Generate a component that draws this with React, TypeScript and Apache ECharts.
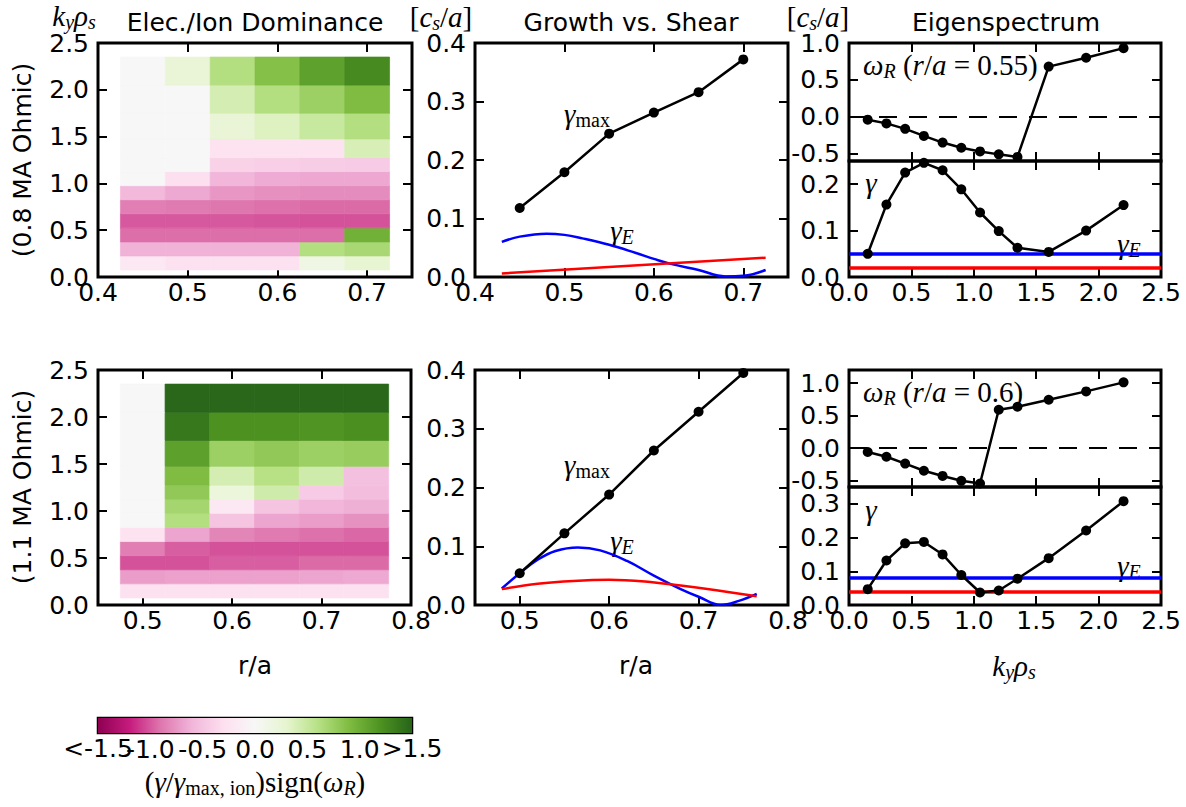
import React, { useEffect, useRef } from 'react';
import * as echarts from 'echarts';

// ---------- data ----------
const kyValues = [0.15, 0.3, 0.45, 0.6, 0.75, 0.9, 1.05, 1.2, 1.35, 1.6, 1.9, 2.2];
const rTop = [0.45, 0.5, 0.55, 0.6, 0.65, 0.7];
const rBot = [0.5, 0.55, 0.6, 0.65, 0.7, 0.75];

// rows: ky from 0.15 upward; columns: r/a
const domTop = [
  [-0.2, -0.27, -0.27, -0.27, 0.15, 0.28],
  [-0.62, -0.62, -0.62, -0.62, 0.62, 0.68],
  [-0.93, -0.93, -0.93, -0.93, -0.93, 0.98],
  [-1.0, -1.0, -1.0, -1.01, -1.02, -1.02],
  [-0.86, -0.88, -0.9, -0.92, -0.94, -0.94],
  [-0.58, -0.66, -0.75, -0.78, -0.8, -0.8],
  [0, -0.3, -0.6, -0.65, -0.67, -0.67],
  [0, 0, -0.4, -0.42, -0.44, -0.45],
  [0, 0, -0.28, -0.28, -0.28, 0.4],
  [0, 0, 0.25, 0.36, 0.5, 0.62],
  [0, 0, 0.42, 0.62, 0.75, 0.9],
  [0, 0.25, 0.62, 0.87, 1.09, 1.25],
];
const domBot = [
  [-0.27, -0.27, -0.27, -0.27, -0.27, -0.27],
  [-0.72, -0.7, -0.7, -0.7, -0.68, -0.66],
  [-1.02, -1.02, -0.98, -0.98, -0.94, -0.94],
  [-0.86, -0.98, -1.02, -1.02, -1.02, -1.02],
  [-0.28, -0.68, -0.83, -0.88, -0.92, -0.95],
  [0, 0.62, -0.5, -0.68, -0.72, -0.77],
  [0, 0.7, -0.2, -0.5, -0.6, -0.63],
  [0, 0.8, 0.22, 0.45, -0.45, -0.55],
  [0, 0.9, 0.42, 0.6, 0.45, -0.53],
  [0, 1.1, 0.75, 0.8, 0.75, 0.77],
  [0, 1.37, 1.2, 1.2, 1.18, 1.22],
  [0, 1.48, 1.48, 1.48, 1.48, 1.48],
];

const gmaxTopR = [0.45, 0.5, 0.55, 0.6, 0.65, 0.7];
const gmaxTop = [0.118, 0.179, 0.245, 0.281, 0.316, 0.372];
const shearTopR = [0.43, 0.45, 0.48, 0.5, 0.52, 0.55, 0.58, 0.6, 0.62, 0.65, 0.68, 0.7, 0.725];
const shearTop = [0.06, 0.069, 0.074, 0.072, 0.066, 0.055, 0.041, 0.031, 0.022, 0.012, 0.001, 0.002, 0.012];
const redTopR = [0.43, 0.725];
const redTop = [0.006, 0.033];

const gmaxBotR = [0.5, 0.55, 0.6, 0.65, 0.7, 0.75];
const gmaxBot = [0.054, 0.122, 0.188, 0.263, 0.329, 0.395];
const shearBotR = [0.48, 0.5, 0.52, 0.54, 0.565, 0.59, 0.62, 0.65, 0.68, 0.7, 0.725, 0.745, 0.765];
const shearBot = [0.028, 0.054, 0.077, 0.092, 0.098, 0.093, 0.075, 0.05, 0.027, 0.014, 0.0, 0.007, 0.019];
const redBotR = [0.48, 0.52, 0.56, 0.6, 0.64, 0.68, 0.72, 0.765];
const redBot = [0.027, 0.036, 0.041, 0.043, 0.04, 0.033, 0.025, 0.015];

const omegaTop = [-0.04, -0.09, -0.164, -0.26, -0.35, -0.42, -0.47, -0.51, -0.545, 0.68, 0.8, 0.93];
const gammaTop = [0.05, 0.156, 0.225, 0.246, 0.23, 0.189, 0.139, 0.099, 0.063, 0.054, 0.1, 0.155];
const omegaBot = [-0.062, -0.134, -0.24, -0.35, -0.43, -0.505, -0.546, 0.588, 0.634, 0.742, 0.871, 1.01];
const gammaBot = [0.047, 0.132, 0.183, 0.187, 0.15, 0.089, 0.037, 0.043, 0.078, 0.139, 0.221, 0.308];
const shearFlatTop = 0.049;
const redFlatTop = 0.016;
const shearFlatBot = 0.079;
const redFlatBot = 0.042;

const cbarRange = [-1.5, 1.5];
const cbarEndLabels = ['<-1.5', '>1.5'];
const PIYG = ['#8e0152', '#c51b7d', '#de77ae', '#f1b6da', '#fde0ef', '#f7f7f7', '#e6f5d0', '#b8e186', '#7fbc41', '#4d9221', '#276419'];

// ---------- helpers ----------
function hexToRgb(h: string) {
  return [parseInt(h.slice(1, 3), 16), parseInt(h.slice(3, 5), 16), parseInt(h.slice(5, 7), 16)];
}
function piyg(v: number) {
  const t = Math.max(0, Math.min(1, (v - cbarRange[0]) / (cbarRange[1] - cbarRange[0]))) * 10;
  const i = Math.min(9, Math.floor(t));
  const f = t - i;
  const a = hexToRgb(PIYG[i]);
  const b = hexToRgb(PIYG[i + 1]);
  const c = a.map((x, k) => Math.round(x + (b[k] - x) * f));
  return `rgb(${c[0]},${c[1]},${c[2]})`;
}
function zip(xs: number[], ys: number[]) {
  return xs.map((x, i) => [x, ys[i]]);
}
function heatData(rs: number[], grid: number[][]) {
  const out: number[][] = [];
  const n = kyValues.length;
  for (let i = 0; i < n; i++) {
    const lo = i === 0 ? kyValues[0] - (kyValues[1] - kyValues[0]) / 2 : (kyValues[i - 1] + kyValues[i]) / 2;
    const hi = i === n - 1 ? kyValues[n - 1] + (kyValues[n - 1] - kyValues[n - 2]) / 2 : (kyValues[i] + kyValues[i + 1]) / 2;
    for (let j = 0; j < rs.length; j++) {
      out.push([rs[j], kyValues[i], grid[i][j], lo, hi]);
    }
  }
  return out;
}
const halfW = (rTop[1] - rTop[0]) / 2;

const SANS = "'DejaVu Sans', sans-serif";
const SERIF = "'Liberation Serif', 'DejaVu Serif', serif";

const isMult = (v: number, step: number) => Math.abs(v / step - Math.round(v / step)) < 1e-6;

const tick = { show: true, inside: true, length: 9, lineStyle: { color: '#000', width: 2 } };

function axis(gridIndex: number, position: string, r: any, labels: boolean, step: number, isX: boolean) {
  return {
    type: 'value',
    gridIndex,
    position,
    min: r.min,
    max: r.max,
    interval: r.interval,
    splitNumber: r.splitNumber,
    axisLine: { show: false, onZero: false },
    axisTick: tick,
    splitLine: { show: false },
    axisLabel: {
      show: labels,
      showMinLabel: true,
      showMaxLabel: true,
      hideOverlap: false,
      color: '#000',
      fontSize: 25,
      fontFamily: SANS,
      margin: isX ? 3 : 9,
      formatter: (v: number) => (isMult(v, step) ? v.toFixed(1) : ''),
    },
  };
}

const grids = [
  { left: 98, top: 43, width: 314, height: 234 },
  { left: 475, top: 43, width: 313, height: 234 },
  { left: 849, top: 43, width: 312, height: 118 },
  { left: 849, top: 161, width: 312, height: 116 },
  { left: 98, top: 370, width: 313, height: 235 },
  { left: 475, top: 370, width: 313, height: 235 },
  { left: 849, top: 370, width: 312, height: 117 },
  { left: 849, top: 487, width: 312, height: 118 },
];
const cbarGrid = { left: 98, top: 718, width: 314, height: 15 };

const axSpec = [
  { x: { min: 0.4, max: 0.75, interval: 0.1 }, y: { min: 0, max: 2.5, interval: 0.5 }, xl: true, xs: 0.1, ys: 0.5 },
  { x: { min: 0.4, max: 0.75, interval: 0.1 }, y: { min: 0, max: 0.4, interval: 0.1 }, xl: true, xs: 0.1, ys: 0.1 },
  { x: { min: 0, max: 2.5, interval: 0.5 }, y: { min: -0.6, max: 1.0, splitNumber: 3 }, xl: false, xs: 0.5, ys: 0.5 },
  { x: { min: 0, max: 2.5, interval: 0.5 }, y: { min: 0, max: 0.25, interval: 0.1 }, xl: true, xs: 0.5, ys: 0.1 },
  { x: { min: 0.45, max: 0.8, splitNumber: 4 }, y: { min: 0, max: 2.5, interval: 0.5 }, xl: true, xs: 0.1, ys: 0.5 },
  { x: { min: 0.45, max: 0.8, splitNumber: 4 }, y: { min: 0, max: 0.4, interval: 0.1 }, xl: true, xs: 0.1, ys: 0.1 },
  { x: { min: 0, max: 2.5, interval: 0.5 }, y: { min: -0.6, max: 1.2, splitNumber: 3 }, xl: false, xs: 0.5, ys: 0.5 },
  { x: { min: 0, max: 2.5, interval: 0.5 }, y: { min: 0, max: 0.35, interval: 0.1 }, xl: true, xs: 0.5, ys: 0.1 },
];

function heatSeries(idx: number, rs: number[], grid: number[][]) {
  return {
    type: 'custom',
    xAxisIndex: idx * 2,
    yAxisIndex: idx * 2,
    encode: { x: 0, y: 1 },
    data: heatData(rs, grid),
    renderItem: (params: any, api: any) => {
      const x = api.value(0);
      const v = api.value(2);
      const p0 = api.coord([x - halfW, api.value(3)]);
      const p1 = api.coord([x + halfW, api.value(4)]);
      const c = piyg(v);
      return {
        type: 'rect',
        shape: { x: p0[0], y: p1[1], width: p1[0] - p0[0], height: p0[1] - p1[1] },
        style: { fill: c, stroke: c, lineWidth: 0.7 },
      };
    },
  };
}

function dotLine(idx: number, data: number[][], extra: any = {}) {
  return {
    type: 'line',
    xAxisIndex: idx * 2,
    yAxisIndex: idx * 2,
    data,
    symbol: 'circle',
    symbolSize: 10,
    itemStyle: { color: '#000' },
    lineStyle: { color: '#000', width: 2.5 },
    z: 5,
    ...extra,
  };
}
function curve(idx: number, data: number[][], color: string) {
  return {
    type: 'line',
    xAxisIndex: idx * 2,
    yAxisIndex: idx * 2,
    data,
    symbol: 'none',
    smooth: 0.4,
    lineStyle: { color, width: 2.5 },
    z: 3,
  };
}
function flatLines(a: number, b: number) {
  return {
    symbol: 'none',
    silent: true,
    label: { show: false },
    z: 2,
    data: [
      { yAxis: a, lineStyle: { color: '#0000ff', width: 3.5, type: 'solid' } },
      { yAxis: b, lineStyle: { color: '#ff0000', width: 3.5, type: 'solid' } },
    ],
  };
}
const zeroLine = {
  symbol: 'none',
  silent: true,
  label: { show: false },
  data: [{ yAxis: 0, lineStyle: { color: '#000', width: 2, type: [18, 12] } }],
};

const mathRich = {
  i: { fontFamily: SERIF, fontStyle: 'italic', fontSize: 29, lineHeight: 31, fill: '#000' },
  r: { fontFamily: SERIF, fontSize: 29, lineHeight: 31, fill: '#000' },
  s: { fontFamily: SERIF, fontStyle: 'italic', fontSize: 20, lineHeight: 16, verticalAlign: 'bottom', fill: '#000' },
  sr: { fontFamily: SERIF, fontSize: 20, lineHeight: 16, verticalAlign: 'bottom', fill: '#000' },
};

function sansText(x: number, y: number, text: string, rot = 0) {
  return {
    type: 'text',
    x,
    y,
    rotation: rot,
    style: { text, fontSize: 25, fontFamily: SANS, fill: '#000', align: 'center', verticalAlign: 'middle' },
  };
}
function mathText(x: number, y: number, text: string, align = 'center') {
  return {
    type: 'text',
    x,
    y,
    style: { text, rich: mathRich, fill: '#000', align, verticalAlign: 'middle' },
  };
}

export default function App() {
  const ref = useRef<HTMLDivElement>(null);
  useEffect(() => {
    if (!ref.current) return;
    const chart = echarts.init(ref.current, null, { renderer: 'svg' });

    const xAxes: any[] = [];
    const yAxes: any[] = [];
    const gridOpts: any[] = grids.map((g) => ({
      ...g,
      show: true,
      borderColor: '#000',
      borderWidth: 3,
      backgroundColor: 'transparent',
      containLabel: false,
    }));
    axSpec.forEach((s, gi) => {
      xAxes.push(axis(gi, 'bottom', s.x, s.xl, s.xs, true));
      xAxes.push(axis(gi, 'top', s.x, false, s.xs, true));
      yAxes.push(axis(gi, 'left', s.y, true, s.ys, false));
      yAxes.push(axis(gi, 'right', s.y, false, s.ys, false));
    });
    // colorbar grid
    gridOpts.push({ ...cbarGrid, show: true, borderColor: '#000', borderWidth: 2.5, backgroundColor: 'transparent' });
    xAxes.push({
      type: 'value',
      gridIndex: 8,
      position: 'bottom',
      min: cbarRange[0],
      max: cbarRange[1],
      interval: 0.5,
      axisLine: { show: false, onZero: false },
      axisTick: tick,
      splitLine: { show: false },
      axisLabel: {
        showMinLabel: false,
        showMaxLabel: false,
        hideOverlap: false,
        color: '#000',
        fontSize: 25,
        fontFamily: SANS,
        margin: 4,
        formatter: (v: number) =>
          v <= cbarRange[0] + 1e-9 || v >= cbarRange[1] - 1e-9 ? '' : v.toFixed(1),
      },
    });
    yAxes.push({ type: 'value', gridIndex: 8, min: 0, max: 1, show: false });

    const series: any[] = [
      heatSeries(0, rTop, domTop),
      dotLine(1, zip(gmaxTopR, gmaxTop)),
      curve(1, zip(shearTopR, shearTop), '#0000ff'),
      curve(1, zip(redTopR, redTop), '#ff0000'),
      dotLine(2, zip(kyValues, omegaTop), { markLine: zeroLine }),
      dotLine(3, zip(kyValues, gammaTop), { markLine: flatLines(shearFlatTop, redFlatTop) }),
      heatSeries(4, rBot, domBot),
      dotLine(5, zip(gmaxBotR, gmaxBot)),
      curve(5, zip(shearBotR, shearBot), '#0000ff'),
      curve(5, zip(redBotR, redBot), '#ff0000'),
      dotLine(6, zip(kyValues, omegaBot), { markLine: zeroLine }),
      dotLine(7, zip(kyValues, gammaBot), { markLine: flatLines(shearFlatBot, redFlatBot) }),
      {
        type: 'custom',
        xAxisIndex: 16,
        yAxisIndex: 16,
        data: [[cbarRange[0], cbarRange[1]]],
        renderItem: (params: any, api: any) => {
          const p0 = api.coord([api.value(0), 0]);
          const p1 = api.coord([api.value(1), 1]);
          return {
            type: 'rect',
            shape: { x: p0[0], y: p1[1], width: p1[0] - p0[0], height: p0[1] - p1[1] },
            style: {
              fill: new echarts.graphic.LinearGradient(
                0, 0, 1, 0,
                PIYG.map((c, i) => ({ offset: i / (PIYG.length - 1), color: c }))
              ),
            },
          };
        },
      },
    ];

    const cbarLabelY = cbarGrid.top + cbarGrid.height + 15;
    const graphic: any[] = [
      mathText(74, 16, '{i|k}{s|y}{i|ρ}{s|s}'),
      sansText(255, 22, 'Elec./Ion Dominance'),
      sansText(631, 22, 'Growth vs. Shear'),
      sansText(1006, 22, 'Eigenspectrum'),
      mathText(441, 17, '{r|[}{i|c}{s|s}{r|/}{i|a}{r|]}'),
      mathText(818, 17, '{r|[}{i|c}{s|s}{r|/}{i|a}{r|]}'),
      sansText(22, 160, '(0.8 MA Ohmic)', Math.PI / 2),
      sansText(22, 487, '(1.1 MA Ohmic)', Math.PI / 2),
      mathText(587, 114, '{i|γ}{sr|max}'),
      mathText(587, 465, '{i|γ}{sr|max}'),
      mathText(622, 231, '{i|γ}{s|E}'),
      mathText(622, 541, '{i|γ}{s|E}'),
      mathText(863, 65, '{i|ω}{s|R}{r| (}{i|r}{r|/}{i|a}{r| = 0.55)}', 'left'),
      mathText(863, 392, '{i|ω}{s|R}{r| (}{i|r}{r|/}{i|a}{r| = 0.6)}', 'left'),
      mathText(871, 183, '{i|γ}'),
      mathText(871, 510, '{i|γ}'),
      mathText(1129, 244, '{i|γ}{s|E}'),
      mathText(1129, 566, '{i|γ}{s|E}'),
      sansText(255, 665, 'r/a'),
      sansText(636, 665, 'r/a'),
      mathText(1014, 666, '{i|k}{s|y}{i|ρ}{s|s}'),
      sansText(cbarGrid.left, cbarLabelY, cbarEndLabels[0]),
      sansText(cbarGrid.left + cbarGrid.width, cbarLabelY, cbarEndLabels[1]),
      mathText(255, 782, '{r|(}{i|γ}{r|/}{i|γ}{sr|max, ion}{r|)sign(}{i|ω}{s|R}{r|)}'),
    ];

    chart.setOption({
      animation: false,
      backgroundColor: '#fff',
      grid: gridOpts,
      xAxis: xAxes,
      yAxis: yAxes,
      series,
      graphic,
    });
    return () => chart.dispose();
  }, []);
  return <div ref={ref} style={{ position: 'absolute', left: 0, top: 0, width: 1186, height: 807 }} />;
}
